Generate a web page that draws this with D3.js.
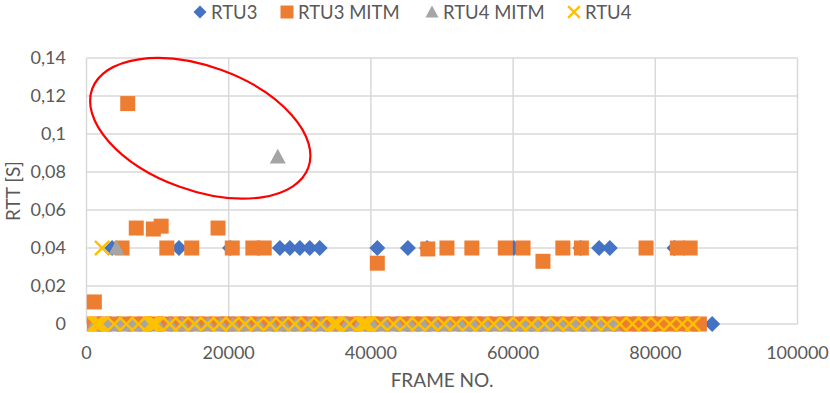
<!DOCTYPE html>
<html><head><meta charset="utf-8">
<script src="https://cdn.jsdelivr.net/npm/d3@7"></script>
<style>body{margin:0;background:#fff}</style>
</head><body>
<svg id="c" width="830" height="393"></svg>
<script>
// ---------- DATA ----------
const seriesNames  = ["RTU3", "RTU3 MITM", "RTU4 MITM", "RTU4"];
const seriesColors = ["#4472C4", "#ED7D31", "#A5A5A5", "#FFC000"];
const xTicks = [0, 20000, 40000, 60000, 80000, 100000];
const yTicks = [0, 0.02, 0.04, 0.06, 0.08, 0.1, 0.12, 0.14];
const xTitle = "FRAME NO.";
const yTitle = "RTT [S]";

// RTU3 (non-zero RTT points)
const rtu3Frame = [3600, 13000, 20200, 27200, 28600, 30000, 31400, 32800, 40900, 45200, 47900, 60100, 69500, 72100, 73600, 82700];
const rtu3Rtt   = [0.04, 0.04, 0.04, 0.04, 0.04, 0.04, 0.04, 0.04, 0.04, 0.04, 0.04, 0.04, 0.04, 0.04, 0.04, 0.04];
// RTU3 frames with RTT = 0
const rtu3ZeroFrame = [2000, 20000, 40000, 60000, 80000, 88000];

// RTU3 MITM (non-zero)
const rtu3MitmFrame = [5800, 1100, 5000, 7000, 9400, 10500, 11300, 14800, 18500, 20500, 23400, 25000, 40900, 48000, 50700, 54200, 58900, 61400, 64200, 67000, 69600, 78700, 83100, 84900];
const rtu3MitmRtt   = [0.116, 0.0116, 0.04, 0.0505, 0.050, 0.0515, 0.04, 0.04, 0.0505, 0.04, 0.04, 0.04, 0.032, 0.0395, 0.04, 0.04, 0.04, 0.04, 0.033, 0.04, 0.04, 0.04, 0.04, 0.04];
// RTU3 MITM frames with RTT = 0
const rtu3MitmZeroFrame = [1100, 2500, 3900, 5300, 6800, 8200, 9700, 11100, 12600, 14000, 15500, 16900, 18400, 19800, 21300, 22700, 24200, 25600, 27100, 28500, 30000, 31400, 32900, 34300, 35800, 37200, 38700, 40100, 41600, 43000, 44500, 45900, 47400, 48800, 50300, 51700, 53200, 54600, 56100, 57500, 59000, 60400, 61900, 63300, 64800, 66200, 67700, 69100, 70600, 72000, 73500, 74900, 76400, 77800, 79300, 80700, 82200, 83600, 85000, 86200];

// RTU4 MITM (non-zero)
const rtu4MitmFrame = [4200, 26900];
const rtu4MitmRtt   = [0.04, 0.088];
// RTU4 MITM frames with RTT = 0
const rtu4MitmZeroFrame = [1100, 2900, 4600, 6400, 8200, 10000, 11800, 13500, 15300, 17100, 18900, 20600, 22400, 24200, 26000, 27700, 29500, 31300, 33100, 34800, 36600, 38400, 40200, 41900, 43700, 45500, 47300, 49000, 50800, 52600, 54400, 56100, 57900, 59700, 61500, 63200, 65000, 66800, 68600, 70300, 72100, 74000];

// RTU4 (non-zero)
const rtu4Frame = [2200];
const rtu4Rtt   = [0.04];
// RTU4 frames with RTT = 0
const rtu4ZeroFrame = [1200, 1500, 1800, 2100, 3900, 5600, 7300, 9000, 9300, 9600, 9900, 11700, 13400, 15200, 17000, 18700, 20500, 22300, 24000, 25800, 27500, 29300, 31100, 32900, 34700, 35000, 35300, 37000, 38700, 39000, 39300, 39600, 41400, 43200, 45000, 46700, 48500, 50300, 52000, 53800, 55600, 57300, 59100, 60900, 62600, 64400, 66200, 67900, 69700, 71500, 73200, 75000, 76800, 78500, 80300, 82100, 83800, 85300];

// Annotation ellipse (data-space centre)
const ellipseCenter = [16000, 0.103];

// ---------- CHART ----------
const font = "Lato, 'Open Sans', sans-serif";
const textCol = "#595959";
const gridCol = "#d9d9d9";

const x = d3.scaleLinear().domain([0, 100000]).range([86.5, 797.5]);
const y = d3.scaleLinear().domain([0, 0.14]).range([324, 58]);

const svg = d3.select("#c");

// grid
svg.append("g").selectAll("line").data(yTicks).join("line")
  .attr("x1", x(0)).attr("x2", x(100000))
  .attr("y1", d => y(d)).attr("y2", d => y(d))
  .attr("stroke", gridCol).attr("stroke-width", 1.5);
svg.append("g").selectAll("line").data(xTicks).join("line")
  .attr("x1", d => x(d)).attr("x2", d => x(d))
  .attr("y1", y(0)).attr("y2", y(0.14))
  .attr("stroke", gridCol).attr("stroke-width", 1.5);

// tick labels
const fmt = v => String(+v.toFixed(2)).replace(".", ",");
svg.append("g").selectAll("text").data(yTicks).join("text")
  .attr("x", 66).attr("y", d => y(d)).attr("dy", "0.35em")
  .attr("text-anchor", "end").attr("font-family", font).attr("font-size", 18)
  .attr("fill", textCol).text(fmt);
svg.append("g").selectAll("text").data(xTicks).join("text")
  .attr("x", d => x(d)).attr("y", 359)
  .attr("text-anchor", "middle").attr("font-family", font).attr("font-size", 18)
  .attr("fill", textCol).text(d => String(d));

// axis titles
svg.append("text").attr("x", 442).attr("y", 387).attr("text-anchor", "middle")
  .attr("font-family", font).attr("font-size", 19).attr("fill", textCol).text(xTitle);
svg.append("text").attr("transform", "translate(19.5,191) rotate(-90)")
  .attr("text-anchor", "middle").attr("font-family", font).attr("font-size", 19)
  .attr("fill", textCol).text(yTitle);

// marker painters
function marker(g, type, color, s) {
  const r = s / 2;
  if (type === 0) {
    g.append("path").attr("d", `M0,${-r}L${r},0L0,${r}L${-r},0Z`).attr("fill", color);
  } else if (type === 1) {
    g.append("rect").attr("x", -r).attr("y", -r).attr("width", s).attr("height", s).attr("fill", color);
  } else if (type === 2) {
    g.append("path").attr("d", `M0,${-r}L${r},${r * 0.85}L${-r},${r * 0.85}Z`).attr("fill", color);
  } else {
    const q = r * 0.9;
    g.append("path").attr("d", `M${-q},${-q}L${q},${q}M${-q},${q}L${q},${-q}`)
      .attr("stroke", color).attr("stroke-width", 2.4).attr("fill", "none");
  }
}

const series = [
  {type: 0, frames: rtu3ZeroFrame.concat(rtu3Frame), rtts: rtu3ZeroFrame.map(() => 0).concat(rtu3Rtt), size: 16},
  {type: 1, frames: rtu3MitmZeroFrame.concat(rtu3MitmFrame), rtts: rtu3MitmZeroFrame.map(() => 0).concat(rtu3MitmRtt), size: 15},
  {type: 2, frames: rtu4MitmZeroFrame.concat(rtu4MitmFrame), rtts: rtu4MitmZeroFrame.map(() => 0).concat(rtu4MitmRtt), size: 16},
  {type: 3, frames: rtu4ZeroFrame.concat(rtu4Frame), rtts: rtu4ZeroFrame.map(() => 0).concat(rtu4Rtt), size: 16}
];

series.forEach(s => {
  const g = svg.append("g");
  s.frames.forEach((f, i) => {
    const m = g.append("g").attr("transform", `translate(${x(f)},${y(s.rtts[i])})`);
    marker(m, s.type, seriesColors[s.type], s.size);
  });
});

// ellipse annotation
svg.append("ellipse")
  .attr("cx", 0).attr("cy", 0).attr("rx", 115).attr("ry", 62)
  .attr("transform", `translate(${x(ellipseCenter[0])},${y(ellipseCenter[1])}) rotate(20)`)
  .attr("fill", "none").attr("stroke", "#FF0000").attr("stroke-width", 2.2);

// legend
const legX = [200, 287, 432, 574];
const leg = svg.append("g");
seriesNames.forEach((n, i) => {
  const m = leg.append("g").attr("transform", `translate(${legX[i]},12)`);
  marker(m, i, seriesColors[i], 13);
  leg.append("text").attr("x", legX[i] + 11).attr("y", 18.5)
    .attr("font-family", font).attr("font-size", 18.5).attr("fill", textCol).text(n);
});
</script>
</body></html>
